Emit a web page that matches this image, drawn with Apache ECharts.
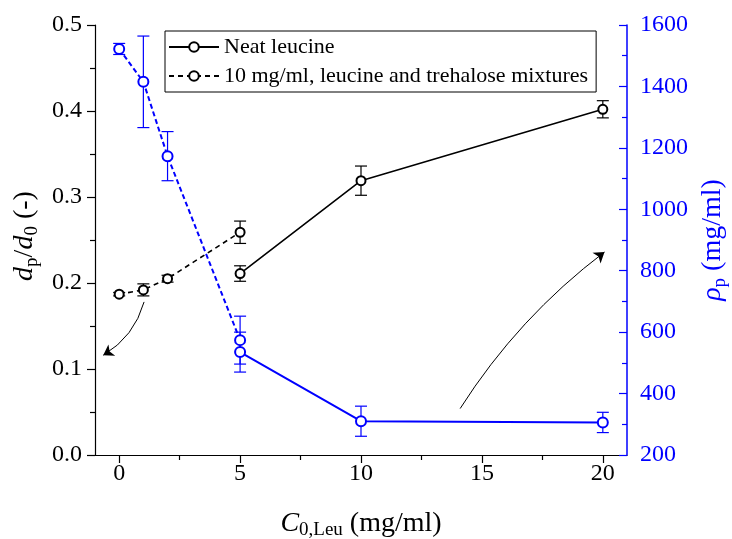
<!DOCTYPE html>
<html>
<head>
<meta charset="utf-8">
<script src="https://cdn.jsdelivr.net/npm/echarts@6/dist/echarts.min.js"></script>
<style>html,body{margin:0;padding:0;background:#fff}#c{width:732px;height:539px}</style>
</head>
<body>
<div id="c"></div>
<script>
// Neat leucine
const xNeat = [5, 10, 20];
const dNeat = [0.211, 0.319, 0.402];
const dNeatErr = [0.009, 0.017, 0.010];
const rhoNeat = [535, 310, 306];
const rhoNeatErr = [65, 49, 33];
// 10 mg/ml, leucine and trehalose mixtures
const xMix = [0, 1, 2, 5];
const dMix = [0.187, 0.192, 0.205, 0.259];
const dMixErr = [0.002, 0.007, 0.004, 0.013];
const rhoMix = [1522, 1415, 1173, 574];
const rhoMixErr = [18, 149, 80, 78];
// axis ticks
const xTicks = [0, 5, 10, 15, 20];
const xMinorTicks = [2.5, 7.5, 12.5, 17.5];
// annotation arrows [start, end] in data units (left axis)
const arrowLeft = [[1.03, 0.178], [-0.66, 0.116]];
const arrowRight = [[14.1, 0.054], [20.07, 0.236]];

const serif = 'Liberation Serif';
const BLUE = '#0000ff';

function pairs(xs, ys) { return xs.map((x, i) => [x, ys[i]]); }
function errData(xs, ys, es) { return xs.map((x, i) => [x, ys[i] - es[i], ys[i] + es[i]]); }
function errSeries(data, yIdx, color) {
  return {
    type: 'custom', xAxisIndex: 0, yAxisIndex: yIdx, z: 1, silent: true,
    data: data,
    renderItem: function (params, api) {
      const x = api.value(0);
      const p1 = api.coord([x, api.value(1)]);
      const p2 = api.coord([x, api.value(2)]);
      const w = 6;
      const st = { stroke: color, lineWidth: 1.2 };
      return {
        type: 'group',
        children: [
          { type: 'line', shape: { x1: p1[0], y1: p1[1], x2: p2[0], y2: p2[1] }, style: st },
          { type: 'line', shape: { x1: p1[0] - w, y1: p1[1], x2: p1[0] + w, y2: p1[1] }, style: st },
          { type: 'line', shape: { x1: p2[0] - w, y1: p2[1], x2: p2[0] + w, y2: p2[1] }, style: st }
        ]
      };
    }
  };
}

const chart = echarts.init(document.getElementById('c'), null, { renderer: 'canvas' });
const option = {
  backgroundColor: '#fff',
  animation: false,
  textStyle: { fontFamily: serif },
  grid: { left: 95, right: 105, top: 25, bottom: 84, containLabel: false, outerBoundsMode: 'none' },
  legend: {
    data: ['Neat leucine', '10 mg/ml, leucine and trehalose mixtures'],
    orient: 'vertical', left: 165, top: 31,
    padding: [5, 8, 5, 3], itemGap: 7,
    itemWidth: 50, itemHeight: 12,
    borderColor: '#000', borderWidth: 1, borderRadius: 0,
    textStyle: { fontFamily: serif, fontSize: 22, color: '#000' }
  },
  xAxis: [{
    type: 'value', min: -1, max: 21, position: 'bottom',
    axisLine: { show: true, onZero: false, lineStyle: { color: '#000', width: 1.2 } },
    axisTick: { show: true, inside: false, length: 8, customValues: xTicks, lineStyle: { color: '#000', width: 1.2 } },
    axisLabel: { customValues: xTicks, margin: 7, fontFamily: serif, fontSize: 24, color: '#000' },
    splitLine: { show: false },
    name: '{i|C}{sub|0,Leu}{n| (mg/ml)}',
    nameLocation: 'middle', nameGap: 52,
    nameTextStyle: {
      rich: {
        i: { fontFamily: serif, fontStyle: 'italic', fontSize: 28, color: '#000' },
        sub: { fontFamily: serif, fontSize: 19, color: '#000', verticalAlign: 'bottom', padding: [14, 0, 0, 0] },
        n: { fontFamily: serif, fontSize: 28, color: '#000' }
      }
    }
  }, {
    type: 'value', min: -1, max: 21, position: 'bottom',
    axisLine: { show: false, onZero: false },
    axisTick: { show: true, inside: false, length: 5, customValues: xMinorTicks, lineStyle: { color: '#000', width: 1.2 } },
    axisLabel: { show: false }, splitLine: { show: false }
  }],
  yAxis: [{
    type: 'value', min: 0, max: 0.5, interval: 0.1, position: 'left',
    axisLine: { show: true, onZero: false, lineStyle: { color: '#000', width: 1.2 } },
    axisTick: { show: true, inside: false, length: 8, lineStyle: { color: '#000', width: 1.2 } },
    minorTick: { show: true, splitNumber: 2, length: 5, lineStyle: { color: '#000', width: 1.2 } },
    axisLabel: { margin: 13, fontFamily: serif, fontSize: 24, color: '#000', formatter: v => v.toFixed(1) },
    splitLine: { show: false },
    name: '{i|d}{sub|p}{n|/}{i|d}{sub|0}{n| (-)}',
    nameLocation: 'middle', nameGap: 51, nameRotate: 90,
    nameTextStyle: {
      padding: [0, 0, 0, 8],
      rich: {
        i: { fontFamily: serif, fontStyle: 'italic', fontSize: 28, color: '#000' },
        sub: { fontFamily: serif, fontSize: 19, color: '#000', verticalAlign: 'bottom', padding: [14, 0, 0, 0] },
        n: { fontFamily: serif, fontSize: 28, color: '#000' }
      }
    }
  }, {
    type: 'value', min: 200, max: 1600, interval: 200, position: 'right',
    axisLine: { show: true, onZero: false, lineStyle: { color: BLUE, width: 1.5 } },
    axisTick: { show: true, inside: true, length: 8, lineStyle: { color: BLUE, width: 1.2 } },
    minorTick: { show: true, splitNumber: 2, length: 5, lineStyle: { color: BLUE, width: 1.2 } },
    axisLabel: { margin: 13, fontFamily: serif, fontSize: 24, color: BLUE, formatter: v => String(v) },
    splitLine: { show: false },
    name: '{i|ρ}{sub|p}{n| (mg/ml)}',
    nameLocation: 'middle', nameGap: 67, nameRotate: 90,
    nameTextStyle: {
      rich: {
        i: { fontFamily: serif, fontStyle: 'italic', fontSize: 28, color: BLUE },
        sub: { fontFamily: serif, fontSize: 19, color: BLUE, verticalAlign: 'bottom', padding: [14, 0, 0, 0] },
        n: { fontFamily: serif, fontSize: 28, color: BLUE }
      }
    }
  }],
  series: [
    errSeries(errData(xNeat, dNeat, dNeatErr), 0, '#000'),
    errSeries(errData(xMix, dMix, dMixErr), 0, '#000'),
    errSeries(errData(xNeat, rhoNeat, rhoNeatErr), 1, BLUE),
    errSeries(errData(xMix, rhoMix, rhoMixErr), 1, BLUE),
    {
      name: 'Neat leucine', type: 'line', xAxisIndex: 0, yAxisIndex: 0, z: 3,
      data: pairs(xNeat, dNeat), symbol: 'emptyCircle', symbolSize: 9,
      lineStyle: { color: '#000', width: 1.6 },
      itemStyle: { color: '#000', borderColor: '#000', borderWidth: 1.4 }
    },
    {
      name: '10 mg/ml, leucine and trehalose mixtures', type: 'line', xAxisIndex: 0, yAxisIndex: 0, z: 3,
      data: pairs(xMix, dMix), symbol: 'emptyCircle', symbolSize: 9,
      lineStyle: { color: '#000', width: 1.6, type: [5, 4] },
      itemStyle: { color: '#000', borderColor: '#000', borderWidth: 1.4 }
    },
    {
      name: 'rho neat', type: 'line', xAxisIndex: 0, yAxisIndex: 1, z: 3,
      data: pairs(xNeat, rhoNeat), symbol: 'emptyCircle', symbolSize: 10,
      lineStyle: { color: BLUE, width: 2 },
      itemStyle: { color: BLUE, borderColor: BLUE, borderWidth: 1.6 }
    },
    {
      name: 'rho mix', type: 'line', xAxisIndex: 0, yAxisIndex: 1, z: 3,
      data: pairs(xMix, rhoMix), symbol: 'emptyCircle', symbolSize: 10,
      lineStyle: { color: BLUE, width: 2, type: [5, 3] },
      itemStyle: { color: BLUE, borderColor: BLUE, borderWidth: 1.6 }
    },
    {
      type: 'lines', coordinateSystem: 'cartesian2d', xAxisIndex: 0, yAxisIndex: 0, z: 4, silent: true,
      symbol: ['none', 'arrow'], symbolSize: [0, 10],
      lineStyle: { color: '#000', width: 1, opacity: 1 },
      data: [
        { coords: arrowLeft, lineStyle: { curveness: 0.2 } },
        { coords: arrowRight, lineStyle: { curveness: 0.09 } }
      ]
    }
  ]
};
chart.setOption(option);
</script>
</body>
</html>
